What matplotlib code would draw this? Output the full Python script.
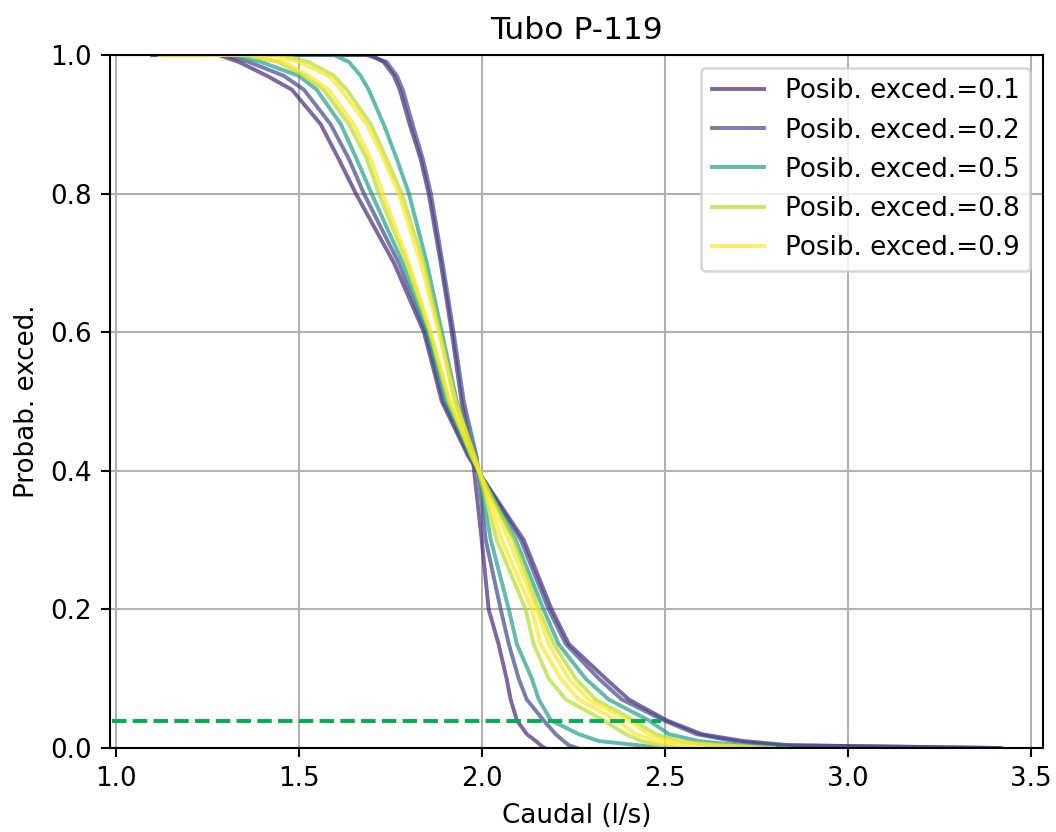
import numpy as np
import matplotlib
matplotlib.use("Agg")
import matplotlib.pyplot as plt

# Exceedance probability levels at which each curve's flow was read
prob = [1.0, 1.0, 0.99, 0.97, 0.95, 0.9, 0.85, 0.8, 0.7, 0.6, 0.5, 0.42,
        0.3, 0.2, 0.15, 0.1, 0.07, 0.04, 0.02, 0.01, 0.004, 0.0]

posib = [0.1, 0.2, 0.5, 0.8, 0.9]

# Caudal (l/s) for the lower (wide) and upper (steep) curve of each possibility level
q_01_lo = [1.100, 1.281, 1.336, 1.413, 1.481, 1.560, 1.609, 1.656, 1.760, 1.842, 1.891, 1.964,
           2.115, 2.191, 2.238, 2.339, 2.402, 2.505, 2.601, 2.716, 2.839, 3.418]
q_01_hi = [1.120, 1.697, 1.732, 1.760, 1.776, 1.803, 1.833, 1.855, 1.888, 1.918, 1.945, 1.975,
           2.000, 2.019, 2.046, 2.068, 2.079, 2.096, 2.123, 2.148, 2.161, 2.172]
q_02_lo = [1.100, 1.295, 1.363, 1.459, 1.514, 1.587, 1.637, 1.678, 1.773, 1.847, 1.896, 1.967,
           2.107, 2.183, 2.230, 2.320, 2.383, 2.497, 2.587, 2.689, 2.811, 3.413]
q_02_hi = [1.120, 1.686, 1.740, 1.768, 1.784, 1.811, 1.839, 1.861, 1.893, 1.923, 1.951, 1.986,
           2.011, 2.052, 2.074, 2.101, 2.123, 2.169, 2.202, 2.224, 2.238, 2.260]
q_05_lo = [1.120, 1.322, 1.396, 1.500, 1.549, 1.615, 1.658, 1.699, 1.784, 1.852, 1.904, 1.970,
           2.093, 2.169, 2.210, 2.284, 2.347, 2.456, 2.511, 2.593, 2.702, 2.839]
q_05_hi = [1.120, 1.596, 1.637, 1.669, 1.691, 1.732, 1.768, 1.801, 1.850, 1.891, 1.932, 1.984,
           2.025, 2.074, 2.096, 2.137, 2.156, 2.189, 2.265, 2.320, 2.429, 2.484]
q_08_lo = [1.120, 1.350, 1.445, 1.514, 1.568, 1.637, 1.686, 1.719, 1.795, 1.858, 1.910, 1.973,
           2.087, 2.156, 2.197, 2.257, 2.311, 2.415, 2.475, 2.538, 2.620, 2.757]
q_08_hi = [1.120, 1.445, 1.527, 1.596, 1.631, 1.697, 1.740, 1.781, 1.842, 1.885, 1.926, 1.981,
           2.041, 2.120, 2.142, 2.183, 2.230, 2.333, 2.393, 2.437, 2.484, 2.538]
q_09_lo = [1.120, 1.363, 1.459, 1.527, 1.582, 1.650, 1.697, 1.730, 1.801, 1.861, 1.913, 1.975,
           2.074, 2.150, 2.183, 2.238, 2.292, 2.402, 2.456, 2.511, 2.648, 2.798]
q_09_hi = [1.120, 1.432, 1.500, 1.582, 1.615, 1.686, 1.732, 1.773, 1.833, 1.883, 1.929, 1.981,
           2.055, 2.137, 2.161, 2.216, 2.265, 2.369, 2.421, 2.475, 2.538, 2.593]

curves = [(q_01_lo, q_01_hi), (q_02_lo, q_02_hi), (q_05_lo, q_05_hi),
          (q_08_lo, q_08_hi), (q_09_lo, q_09_hi)]

# threshold line
thr_x = [0.99, 2.49]
thr_y = [0.039, 0.039]

DPI = 188
fig = plt.figure(figsize=(1056 / DPI, 832 / DPI), dpi=DPI)
ax = fig.add_axes([110 / 1056, (832 - 748) / 832, 933 / 1056, 693 / 832])

cmap = matplotlib.colormaps["viridis"]
for p, (lo, hi) in zip(posib, curves):
    c = cmap(p / 0.9)
    ax.plot(lo, prob, color=c, alpha=0.7, label=f"Posib. exced.={p}")
    ax.plot(hi, prob, color=c, alpha=0.7)

ax.plot(thr_x, thr_y, "--", color="#00b050")

all_q = np.concatenate([np.r_[lo, hi] for lo, hi in curves])
span = all_q.max() - all_q.min()
ax.set_xlim(all_q.min() - 0.05 * span, all_q.max() + 0.05 * span)
ax.set_ylim(0, 1)
ax.set_xticks([1.0, 1.5, 2.0, 2.5, 3.0, 3.5])
ax.grid(True)
ax.set_xlabel("Caudal (l/s)")
ax.set_ylabel("Probab. exced.")
ax.set_title("Tubo P-119")
ax.legend(loc="upper right")

fig.savefig("out.png", dpi=DPI)
